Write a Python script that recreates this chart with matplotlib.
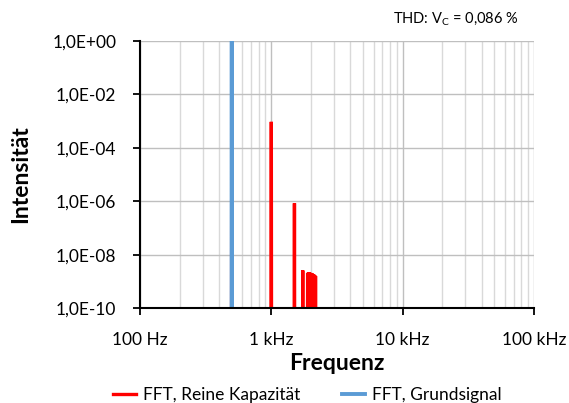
import matplotlib
matplotlib.use("Agg")
import matplotlib.pyplot as plt
import matplotlib.ticker as mticker
import numpy as np

red_peak_freq = [500, 1000, 1500, 1735,
                 1890, 1910, 1930, 1950, 1970, 1990, 2010, 2030,
                 2050, 2070, 2090, 2110, 2130, 2150, 2170]
red_peak_val = [1.0, 9.3e-4, 8.4e-7, 2.6e-9,
                2.1e-9, 2.1e-9, 2.15e-9, 2.15e-9, 2.1e-9, 2.1e-9, 2.05e-9, 2.0e-9,
                1.95e-9, 1.9e-9, 1.85e-9, 1.8e-9, 1.7e-9, 1.65e-9, 1.6e-9]
blue_peak_freq = [500]
blue_peak_val = [1.0]
noise_floor = 1e-12

y_ticks = [1e-10, 1e-8, 1e-6, 1e-4, 1e-2, 1e0]
y_tick_labels = ["1,0E-10", "1,0E-08", "1,0E-06", "1,0E-04", "1,0E-02", "1,0E+00"]
x_ticks = [100, 1000, 10000, 100000]
x_tick_labels = ["100 Hz", "1 kHz", "10 kHz", "100 kHz"]


def spectrum(freqs, vals, rel=0.004):
    # Linien als schmale Spitzen auf dem Rauschboden
    xs, ys = [100], [noise_floor]
    for f, v in zip(freqs, vals):
        xs += [f * (1 - rel), f, f * (1 + rel)]
        ys += [noise_floor, v, noise_floor]
    xs.append(100000)
    ys.append(noise_floor)
    return xs, ys


plt.rcParams['font.family'] = ['Lato', 'DejaVu Sans']

fig = plt.figure(figsize=(5.69, 4.03), dpi=100)
ax = fig.add_axes([0.246, 0.235, 0.6925, 0.664])

rx, ry = spectrum(red_peak_freq, red_peak_val)
bx, by = spectrum(blue_peak_freq, blue_peak_val)
ax.plot(rx, ry, color='#ff0000', lw=2.4, label='FFT, Reine Kapazität', solid_joinstyle='miter')
ax.plot(bx, by, color='#5b9bd5', lw=2.8, label='FFT, Grundsignal')

ax.set_xscale('log')
ax.set_yscale('log')
ax.set_xlim(100, 100000)
ax.set_ylim(1e-10, 1.0)

ax.set_xticks(x_ticks)
ax.set_xticklabels(x_tick_labels)
ax.set_yticks(y_ticks)
ax.set_yticklabels(y_tick_labels)
ax.xaxis.set_minor_locator(mticker.LogLocator(base=10, subs=np.arange(2, 10)))
ax.yaxis.set_minor_locator(mticker.NullLocator())
ax.tick_params(axis='both', which='major', direction='out', length=5, width=1.3,
               labelsize=12.5, color='black')
ax.tick_params(axis='y', which='major', pad=12)
ax.tick_params(axis='x', which='major', pad=12)
ax.tick_params(axis='x', which='minor', length=0)

ax.grid(True, which='major', axis='both', color='#bfbfbf', lw=1.0)
ax.grid(True, which='minor', axis='x', color='#d9d9d9', lw=1.0)
ax.set_axisbelow(True)

for s in ['top', 'right']:
    ax.spines[s].set_visible(False)
for s in ['left', 'bottom']:
    ax.spines[s].set_linewidth(1.5)
    ax.spines[s].set_color('black')

ax.set_xlabel('Frequenz', fontsize=16.5, fontweight='bold', labelpad=4)
ax.set_ylabel('Intensität', fontsize=16.5, fontweight='bold', labelpad=15)

fig.text(0.912, 0.952, r'THD: V$_\mathregular{C}$ = 0,086 %', fontsize=10.5, ha='right', va='center')

fig.legend(loc='lower center', bbox_to_anchor=(0.54, -0.038), ncol=2, frameon=False,
           fontsize=12.5, handlelength=1.35, handletextpad=0.4, columnspacing=2.4)

fig.savefig('out.png', dpi=100)
